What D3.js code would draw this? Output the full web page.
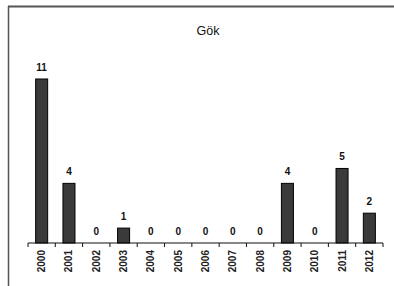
<!DOCTYPE html>
<html lang="en">
<head>
    <meta charset="UTF-8">
    <title>Gök</title>
    <script src="https://cdnjs.cloudflare.com/ajax/libs/d3/7.8.5/d3.min.js"></script>
    <style>
        body { margin: 0; background: #fff; }
    </style>
</head>
<body>
    <div id="draw-here"></div>
    <script>
    // data
    var years = ["2000","2001","2002","2003","2004","2005","2006","2007","2008","2009","2010","2011","2012"];
    var counts = [11, 4, 0, 1, 0, 0, 0, 0, 0, 4, 0, 5, 2];
    var title = "Gök";

    var w = 394, h = 286;
    var baseY = 243;

    var svg = d3.select("#draw-here")
        .append("svg")
        .attr("width", w)
        .attr("height", h)
        .style("font-family", "Arial, 'Liberation Sans', sans-serif");

    // frame: top and left edges only
    svg.append("line").attr("x1", 8).attr("x2", w).attr("y1", 6.5).attr("y2", 6.5)
        .attr("stroke", "#555").attr("stroke-width", 2);
    svg.append("line").attr("x1", 8.5).attr("x2", 8.5).attr("y1", 6).attr("y2", h)
        .attr("stroke", "#555").attr("stroke-width", 1.5);

    svg.append("text")
        .attr("x", 208).attr("y", 35)
        .attr("text-anchor", "middle")
        .attr("font-size", "12.5px")
        .attr("fill", "#111")
        .text(title);

    var x = d3.scaleBand().domain(years).range([28, 383]).paddingInner(0.56).paddingOuter(0.28);
    var y = d3.scaleLinear().domain([0, 11]).range([baseY, 79]);

    var g = svg.append("g");

    g.selectAll("rect")
        .data(counts)
        .enter()
        .append("rect")
        .attr("x", function(d, i) { return x(years[i]); })
        .attr("y", function(d) { return y(d); })
        .attr("width", x.bandwidth())
        .attr("height", function(d) { return baseY - y(d); })
        .attr("fill", "#3a3a3a")
        .attr("stroke", "#000")
        .attr("stroke-width", 1);

    g.selectAll("text.val")
        .data(counts)
        .enter()
        .append("text")
        .attr("class", "val")
        .attr("x", function(d, i) { return x(years[i]) + x.bandwidth() / 2; })
        .attr("y", function(d) { return y(d) - 8; })
        .attr("text-anchor", "middle")
        .attr("font-size", "10px")
        .attr("font-weight", "bold")
        .attr("fill", "#111")
        .text(function(d) { return d; });

    // category axis with ticks between categories
    var x0 = 28;
    svg.append("line").attr("x1", x0).attr("x2", 383).attr("y1", baseY).attr("y2", baseY)
        .attr("stroke", "#111").attr("stroke-width", 1.2);
    svg.selectAll("line.tick")
        .data(d3.range(years.length + 1))
        .enter()
        .append("line")
        .attr("class", "tick")
        .attr("x1", function(i) { return x0 + i * (355 / years.length); })
        .attr("x2", function(i) { return x0 + i * (355 / years.length); })
        .attr("y1", baseY).attr("y2", baseY + 4)
        .attr("stroke", "#111");

    svg.selectAll("text.year")
        .data(years)
        .enter()
        .append("text")
        .attr("class", "year")
        .attr("transform", function(d) {
            return "translate(" + (x(d) + x.bandwidth() / 2 + 3.5) + "," + 250 + ") rotate(-90)";
        })
        .attr("text-anchor", "end")
        .attr("font-size", "10px")
        .attr("font-weight", "bold")
        .attr("fill", "#222")
        .text(function(d) { return d; });
    </script>
</body>
</html>
